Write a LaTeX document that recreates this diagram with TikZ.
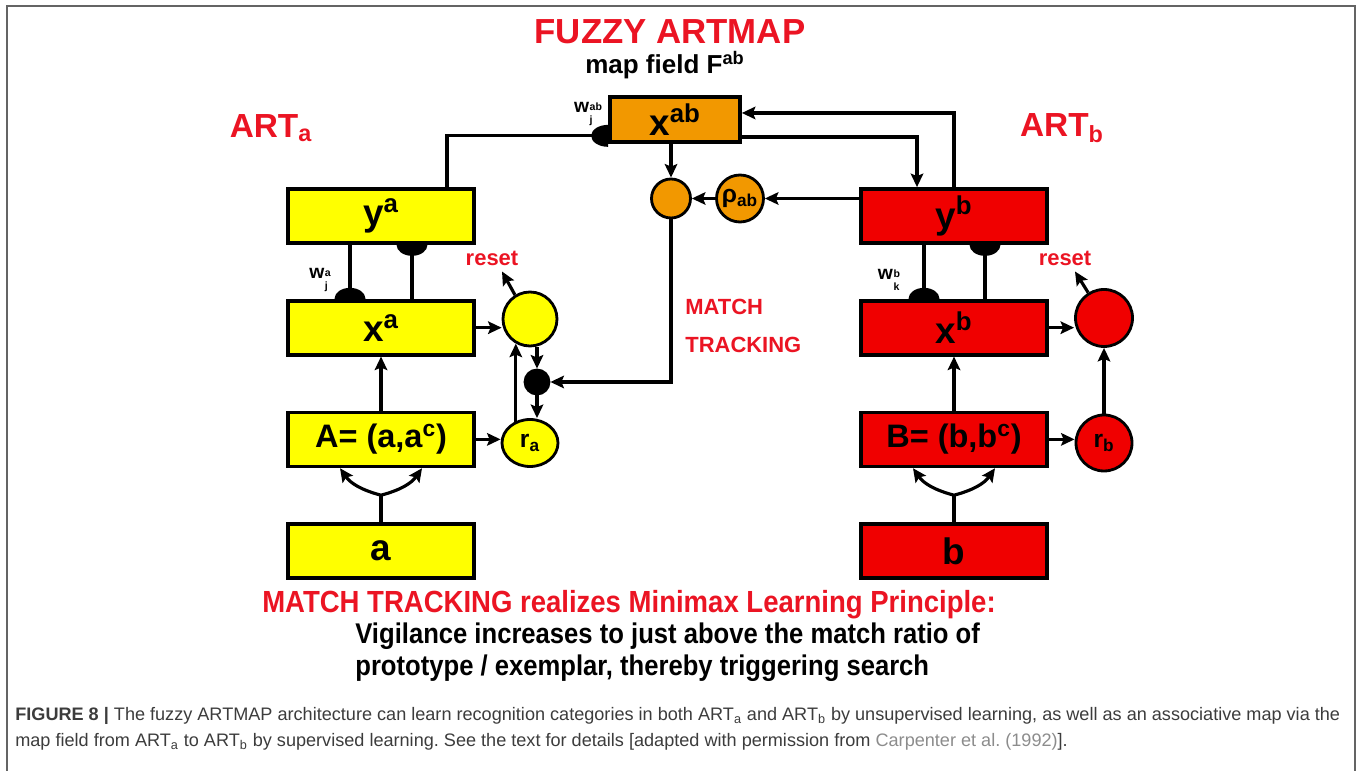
\documentclass[tikz,border=0pt]{standalone}
\usepackage{fontspec}
\setmainfont{Liberation Sans}
\usetikzlibrary{arrows.meta, calc, positioning, shapes.geometric, backgrounds}
\definecolor{artyellow}{RGB}{255,255,0}
\definecolor{artred}{RGB}{240,0,0}
\definecolor{artorange}{RGB}{242,152,0}
\definecolor{textred}{RGB}{235,20,35}
\definecolor{framegray}{RGB}{100,100,100}
\definecolor{capgray}{RGB}{60,60,60}
\definecolor{citegray}{RGB}{140,140,140}
\frenchspacing
\newcommand{\wlabel}[3]{#1\hspace{0.03em}\raisebox{-0.6em}{\fontsize{6}{8}\selectfont\shortstack[l]{#2\\#3}}}

\begin{document}
\begin{tikzpicture}[
    artbox/.style={draw, line width=2.1pt, minimum width=3.72cm, minimum height=1.08cm, inner sep=0pt, font=\fontsize{21}{21}\selectfont\bfseries},
    yellowbox/.style={artbox, fill=artyellow},
    redbox/.style={artbox, fill=artred},
    unit/.style={circle, draw, line width=1.6pt, inner sep=0pt, font=\fontsize{14}{14}\selectfont\bfseries},
    arr/.style={-{Stealth[length=0.27cm, width=0.25cm, inset=0.05cm]}, line width=1.8pt},
    link/.style={line width=1.8pt},
    redlabel/.style={text=textred, font=\fontsize{12.5}{21.6}\selectfont\bfseries},
    weight/.style={font=\fontsize{11}{11}\selectfont\bfseries},
    node distance=1.08cm]
    \useasboundingbox (0,0) rectangle (27.22,15.42);
    \draw[framegray, line width=0.9pt] (0.14,0) -- (0.14,15.30) -- (27.10,15.30) -- (27.10,0);

    \node[text=textred, font=\fontsize{19.8}{19.8}\selectfont\bfseries, inner sep=1pt] (title) at (13.40,14.78) {FUZZY ARTMAP};
    \node[font=\fontsize{14.8}{14.8}\selectfont\bfseries, inner sep=1pt] (mapfield) at (13.30,14.11) {map field F\textsuperscript{ab}};
    \node[text=textred, font=\fontsize{19}{19}\selectfont\bfseries] (arta) at (5.42,12.86) {ART\textsubscript{a}};
    \node[text=textred, font=\fontsize{19}{19}\selectfont\bfseries] (artb) at (21.24,12.86) {ART\textsubscript{b}};

    \node[artbox, fill=artorange, minimum width=2.6cm, minimum height=0.9cm] (xab) at (13.50,13.03) {x\textsuperscript{ab}};

    \node[yellowbox] (ya) at (7.62,11.10) {y\textsuperscript{a}};
    \node[yellowbox, below=of ya] (xa) {x\textsuperscript{a}};
    \node[yellowbox, below=of xa, font=\fontsize{18.5}{18.5}\selectfont\bfseries] (Aa) {A= (a,a\textsuperscript{c})};
    \node[yellowbox, below=of Aa] (ina) {a};

    \node[redbox] (yb) at (19.08,11.10) {y\textsuperscript{b}};
    \node[redbox, below=of yb] (xb) {x\textsuperscript{b}};
    \node[redbox, below=of xb, font=\fontsize{18.5}{18.5}\selectfont\bfseries] (Bb) {B= (b,b\textsuperscript{c})};
    \node[redbox, below=of Bb] (inb) {b};

    \node[unit, fill=artyellow, minimum size=1.08cm] (resa) at (10.60,9.04) {};
    \node[unit, fill=black, minimum size=0.48cm] (gatea) at (10.74,7.78) {};
    \node[unit, ellipse, fill=artyellow, minimum width=1.12cm, minimum height=0.94cm] (ra) at (10.60,6.56) {r\textsubscript{a}};
    \node[unit, fill=artred, minimum size=1.14cm] (resb) at (22.08,9.06) {};
    \node[unit, fill=artred, minimum size=1.12cm] (rb) at (22.08,6.56) {r\textsubscript{b}};
    \node[unit, fill=artorange, minimum size=0.78cm] (match) at (13.42,11.45) {};
    \node[unit, fill=artorange, minimum size=0.94cm] (rho) at (14.80,11.45) {ρ\textsubscript{ab}};

    \node[redlabel] (reseta) at (9.84,10.26) {reset};
    \node[redlabel] (resetb) at (21.30,10.26) {reset};
    \node[redlabel, anchor=west, align=left, inner sep=0pt] (tracking) at (13.70,8.90) {MATCH\\TRACKING};

    \node[weight, inner sep=0pt] (wab) at (11.76,13.14) {\wlabel{w}{ab}{j}};
    \node[weight, inner sep=0pt] (wa) at (6.40,9.82) {\wlabel{w}{a}{j}};
    \node[weight, inner sep=0pt] (wb) at (17.78,9.82) {\wlabel{w}{b}{k}};

    \begin{pgfonlayer}{background}
        \draw[link] ([xshift=1.32cm]ya.north) |- ([yshift=0.16cm]xab.south west);
        \draw[arr] (yb.north) |- ([yshift=0.13cm]xab.east);
        \draw[arr] ([yshift=-0.35cm]xab.east) -| ([xshift=-0.74cm]yb.north);
        \draw[arr] (yb.west |- rho) -- (rho);
        \draw[arr] (rho) -- (match);
        \draw[arr] (xab.south -| match) -- (match);
        \draw[arr] (match) |- (gatea);

        \draw[link] ([xshift=-0.62cm]ya.south) -- ([xshift=-0.62cm]xa.north);
        \draw[link] ([xshift=0.62cm]ya.south) -- ([xshift=0.62cm]xa.north);
        \draw[arr] (Aa.north) -- (xa.south);
        \draw[link] (ina.north) -- ++(0,0.54) coordinate (splita);
        \draw[arr] (splita) to[out=165, in=-55] ([xshift=-0.82cm]Aa.south);
        \draw[arr] (splita) to[out=15, in=-125] ([xshift=0.82cm]Aa.south);
        \draw[arr] (xa.east) -- (xa.east -| resa.west);
        \draw[arr] (resa.122) -- ([xshift=0.2cm]reseta.south);
        \draw[arr] (gatea |- resa.south) -- (gatea);
        \draw[arr] (gatea) -- (gatea |- ra.north);
        \draw[arr] (ra.center -| resa.240) -- (resa.240);
        \draw[arr] (Aa.east) -- (Aa.east -| ra.west);

        \draw[link] ([xshift=-0.6cm]yb.south) -- ([xshift=-0.6cm]xb.north);
        \draw[link] ([xshift=0.62cm]yb.south) -- ([xshift=0.62cm]xb.north);
        \draw[arr] (Bb.north) -- (xb.south);
        \draw[link] (inb.north) -- ++(0,0.54) coordinate (splitb);
        \draw[arr] (splitb) to[out=165, in=-55] ([xshift=-0.82cm]Bb.south);
        \draw[arr] (splitb) to[out=15, in=-125] ([xshift=0.82cm]Bb.south);
        \draw[arr] (xb.east) -- (xb.east -| resb.west);
        \draw[arr] (resb.122) -- ([xshift=0.2cm]resetb.south);
        \draw[arr] (rb) -- (resb);
        \draw[arr] (Bb.east) -- (Bb.east -| rb.west);
    \end{pgfonlayer}

    \fill ([yshift=0.16cm]xab.south west) ++(0,0.22) arc[start angle=90, end angle=270, x radius=0.34cm, y radius=0.22cm] -- cycle;
    \fill ([xshift=-0.62cm]xa.north) ++(-0.31,0) arc[start angle=180, end angle=0, x radius=0.31cm, y radius=0.22cm] -- cycle;
    \fill ([xshift=0.62cm]ya.south) ++(-0.31,0) arc[start angle=180, end angle=360, x radius=0.31cm, y radius=0.22cm] -- cycle;
    \fill ([xshift=-0.6cm]xb.north) ++(-0.31,0) arc[start angle=180, end angle=0, x radius=0.31cm, y radius=0.22cm] -- cycle;
    \fill ([xshift=0.62cm]yb.south) ++(-0.31,0) arc[start angle=180, end angle=360, x radius=0.31cm, y radius=0.22cm] -- cycle;

    \node[text=textred, font=\fontsize{17.4}{17.4}\selectfont\bfseries] (principle) at (12.58,3.32) {\scalebox{0.9}[1]{MATCH TRACKING realizes Minimax Learning Principle:}};
    \node[anchor=west, align=left, inner sep=0pt, font=\fontsize{16.2}{18.2}\selectfont\bfseries] (vigilance) at (7.10,2.38) {\scalebox{0.9}[1]{Vigilance increases to just above the match ratio of}\\\scalebox{0.9}[1]{prototype / exemplar, thereby triggering search}};
    \node[anchor=west, align=left, inner sep=0pt, text=capgray, font=\fontsize{10.3}{14.7}\selectfont] (caption) at (0.30,0.84) {\textbf{FIGURE 8 |} The fuzzy ARTMAP architecture can learn recognition categories in both ART\textsubscript{a} and ART\textsubscript{b} by unsupervised learning, as well as an associative map via the\\map field from ART\textsubscript{a} to ART\textsubscript{b} by supervised learning. See the text for details [adapted with permission from \textcolor{citegray}{Carpenter et al. (1992)}].};
\end{tikzpicture}
\end{document}
